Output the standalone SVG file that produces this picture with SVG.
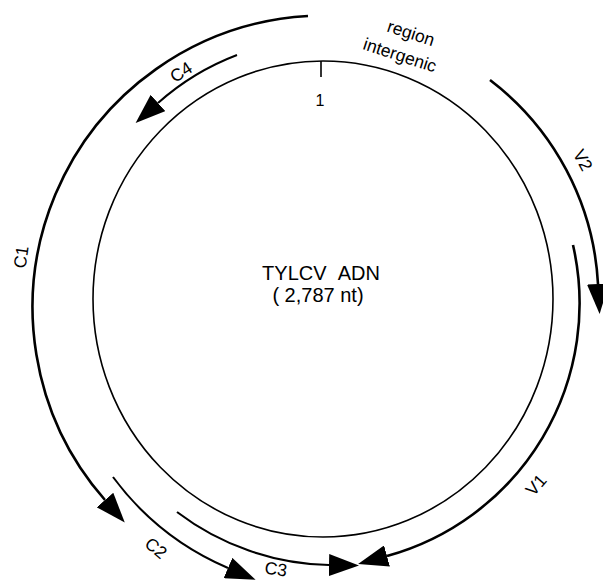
<svg xmlns="http://www.w3.org/2000/svg" width="603" height="580" viewBox="0 0 603 580">
<style>
.lbl{font-family:"Liberation Sans",Arial,sans-serif;font-size:17.5px;fill:#000;text-anchor:middle}
.gene{fill:none;stroke:#000;stroke-width:2.6}
.thin{fill:none;stroke:#000;stroke-width:2.1}
</style>
<defs>
<marker id="ah" viewBox="0 0 30 22" markerUnits="userSpaceOnUse" markerWidth="30" markerHeight="22" refX="0" refY="11" orient="auto">
<path d="M0,0 L30,11 L0,22 Z" fill="#000"/>
</marker>
</defs>
<rect width="603" height="580" fill="#fff"/>
<g id="genome">
<ellipse cx="323" cy="299" rx="230" ry="238" fill="none" stroke="#000" stroke-width="1.6"/>
<line x1="321" y1="61" x2="321" y2="77" stroke="#000" stroke-width="1.6"/>
<text class="lbl" x="320" y="106" style="font-size:16px">1</text>
<text class="lbl" x="321" y="280" style="font-size:20px">TYLCV&#160;&#160;ADN</text>
<text class="lbl" x="318" y="302" style="font-size:20px">( 2,787 nt)</text>
</g>
<g id="intergenic">
<text class="lbl" transform="translate(411,33) rotate(18)" dy=".35em">region</text>
<text class="lbl" transform="translate(400,55) rotate(18)" dy=".35em">intergenic</text>
</g>
<g id="connectors">
<path id="c1" class="gene" d="M308,16 A292,292 0 0 0 105,500" marker-end="url(#ah)"/>
<path id="c4" class="thin" d="M237,55 A255,255 0 0 0 158,103" marker-end="url(#ah)"/>
<path id="v2" class="gene" d="M490,80 A275,275 0 0 1 598,284" marker-end="url(#ah)"/>
<path id="v1" class="gene" d="M573,245 A262,262 0 0 1 387,556" marker-end="url(#ah)"/>
<path id="c2" class="thin" d="M113,477 A280,280 0 0 0 228,568" marker-end="url(#ah)"/>
<path id="c3" class="thin" d="M177,512 A260,260 0 0 0 329,565" marker-end="url(#ah)"/>
</g>
<g id="labels">
<text id="lC1" class="lbl" transform="translate(21,257) rotate(-82)" dy=".35em">C1</text>
<text id="lC4" class="lbl" transform="translate(181,72) rotate(-33)" dy=".35em">C4</text>
<text id="lV2" class="lbl" transform="translate(583,160) rotate(62)" dy=".35em">V2</text>
<text id="lV1" class="lbl" transform="translate(536,485) rotate(-49)" dy=".35em">V1</text>
<text id="lC2" class="lbl" transform="translate(156,548) rotate(40)" dy=".35em">C2</text>
<text id="lC3" class="lbl" transform="translate(276,569) rotate(8)" dy=".35em">C3</text>
</g>
</svg>
